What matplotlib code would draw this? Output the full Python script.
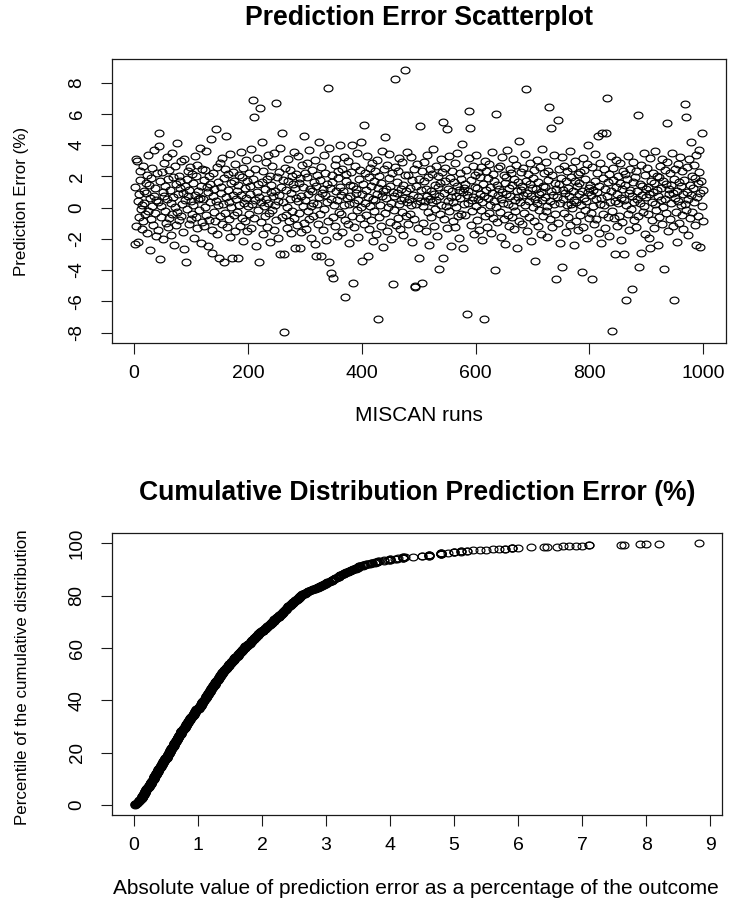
import numpy as np
import matplotlib
matplotlib.use("Agg")
import matplotlib.pyplot as plt
from matplotlib.markers import MarkerStyle
from matplotlib.path import Path

plt.rcParams['font.family'] = ['Liberation Sans', 'DejaVu Sans']

# Prediction error (%) of each MISCAN run, in run order (runs 1..1000)
errors = [
    -2.35, 1.32, 3.12, -1.21, 2.95, 0.42, -2.18, 0.85, -0.63, 1.74, 2.31, -0.12, -1.37, 0.18, 2.64, -0.88, 1.05, 0.27, -0.41, 1.58,
    0.93, -1.62, 2.07, 3.38, -0.25, 1.46, -2.71, 0.61, 1.89, -0.74, 0.08, 2.52, -1.09, 0.77, 3.71, -0.36, 1.23, -1.84, 0.49, 2.18,
    0.34, -1.45, 3.96, 4.8, -3.3, 1.67, 0.12, -0.58, 2.26, 1.02, -2.04, 0.71, 2.83, -0.19, 1.38, -0.97, 3.24, 0.56, -1.26, 1.81,
    -0.67, 2.41, 1.15, -1.78, 0.29, 3.52, -0.44, 1.93, 0.66, -2.37, 2.69, 0.03, -1.12, 1.48, 4.12, -0.31, 0.88, 2.05, -0.82, 1.27,
    1.71, -0.53, 2.97, 0.21, -1.57, 0.94, 3.08, -2.62, 1.36, 0.47, -3.5, 1.84, -0.09, 2.34, 0.75, -1.03, 1.12, 2.58, -0.71, 0.39,
    2.12, -0.38, 1.56, 0.14, -1.94, 3.29, 0.82, -0.61, 1.99, 2.73, -1.31, 0.52, 1.08, -0.16, 3.81, 0.63, -2.26, 1.41, 2.46, -0.93,
    0.58, 1.77, -1.18, 2.39, 0.06, 3.63, -0.49, 1.29, -2.43, 0.97, 2.01, -0.77, 1.52, 0.33, 4.36, -1.41, -2.9, 0.74, 2.21, -0.27,
    1.19, -0.86, 5.0, 0.44, 2.62, -1.66, 0.17, 1.63, -3.2, 2.87, -0.56, 0.91, 1.34, -1.07, 3.15, 0.26, -3.5, 1.88, -0.34, 2.49,
    0.69, 4.6, -1.24, 1.11, 2.15, -0.72, 0.37, 3.44, -1.88, 1.59, 0.04, -3.2, 2.29, 0.83, -0.46, 1.72, 2.78, -1.49, 0.54, 1.06,
    -0.29, -3.2, 1.46, 2.08, 0.19, -1.16, 3.57, 0.78, -0.64, 1.93, 2.56, -2.11, 0.31, 1.24, -0.83, 3.02, 0.62, 1.69, -1.52, 0.11,
    2.24, -0.42, 1.37, 0.86, 3.76, -1.33, 0.22, 6.9, 1.81, 5.8, -0.69, 2.44, 0.48, -2.48, 1.02, 3.19, -0.14, 1.53, -3.5, 0.67,
    6.4, -0.91, 0.38, 4.2, 1.61, -1.71, 2.33, 0.09, 1.17, -0.51, 2.91, 0.57, -1.23, 1.84, 0.28, 3.35, -0.37, 2.02, -2.19, 0.99,
    1.42, -0.18, 2.67, 0.73, -1.46, 3.47, 0.15, 1.08, 6.7, -0.78, 1.96, 0.44, -1.92, 2.27, 0.81, 3.83, -3.0, 1.29, -0.59, 4.8,
    0.36, 1.74, -3.0, -7.99, 2.52, -0.47, 1.14, 0.02, -1.29, 3.11, 1.67, -0.85, 0.53, 2.38, -1.61, 0.92, 2.05, -0.24, 1.48, 3.58,
    -0.66, -2.6, 1.26, 0.64, 2.16, -1.13, 3.27, 0.41, 1.55, -0.32, -2.6, 1.89, 0.76, -1.58, 2.74, 0.13, 1.33, 4.6, -0.96, 2.19,
    0.51, -1.39, 1.98, 2.86, -0.21, 0.89, 3.66, -0.74, 1.21, 0.07, -1.97, 2.43, 1.05, -0.53, 0.32, 1.62, 3.04, -2.34, -3.1, 1.37,
    2.11, 0.26, -1.05, 4.2, 0.68, 1.79, -0.43, -3.1, 2.57, 0.95, -1.44, 1.18, 3.39, -0.11, 0.79, 2.22, -2.07, 1.51, 0.35, 7.66,
    -0.88, 3.8, -3.5, 1.27, 0.54, -4.2, 2.09, 1.63, -0.62, -4.5, 0.19, 2.71, -1.21, 1.04, 3.13, 0.46, -1.83, 1.91, 2.36, -0.27,
    1.32, 4.0, -0.39, 0.83, 2.49, -1.54, 1.07, 0.16, 3.23, -0.79, -5.7, 1.71, 2.14, 0.59, -1.08, 2.96, 0.24, -2.28, 1.45, 0.71,
    2.27, -0.55, 4.0, -4.8, 1.38, 0.31, -1.27, 2.63, 0.92, 1.16, -0.13, 3.49, 0.47, -1.91, 1.83, 2.41, -0.68, 0.05, 4.2, -3.4,
    0.84, 1.53, 5.3, -1.02, 0.27, 2.18, -0.45, 1.12, 3.31, -3.1, 0.66, 1.94, -1.35, 2.55, 0.12, -0.81, 1.41, 2.83, -2.16, 0.58,
    1.73, -0.22, 2.31, 0.49, -1.67, 3.07, 0.87, -7.1, 1.26, -0.59, 2.04, 0.18, 1.57, -1.19, 3.61, 0.73, -2.53, 1.09, 2.46, 4.5,
    -0.35, 1.16, 0.61, 2.72, -1.48, 0.03, 1.87, 3.42, -0.93, 1.35, 0.29, -2.02, 2.23, -4.9, 1.01, 0.77, -0.17, 8.2, 2.59, -1.11,
    0.93, 1.66, -0.64, 2.37, 0.21, 3.18, -1.38, 1.22, 0.48, -0.26, 2.89, 1.44, -1.76, 0.62, 8.83, 2.11, -0.51, 1.03, 3.53, 0.36,
    -1.06, 2.06, 0.57, 1.28, -0.41, 3.26, 0.14, -2.22, 1.76, 0.82, 2.47, -0.73, -5.1, -5.0, 1.39, 0.25, 2.79, -1.28, 0.67, 1.85,
    -3.2, 0.44, 5.2, 1.13, -4.8, 2.32, 0.08, -0.97, 1.68, 2.93, 0.39, -1.52, 1.21, 0.71, 3.36, -0.31, 1.97, -2.39, 0.55, 2.48,
    1.06, -0.62, 2.17, 0.33, 3.72, -1.16, 0.89, 1.47, -0.08, 2.64, 0.51, -1.81, 1.32, 2.01, -3.9, 0.76, 1.58, -0.44, 3.09, 0.19,
    2.26, 5.5, -3.2, 0.94, -0.71, 1.73, 2.54, 0.13, 5.0, -1.33, 1.19, 0.42, 3.28, -0.19, 1.91, -2.47, 0.68, 2.36, 1.04, -0.86,
    0.35, 1.62, -1.24, 2.85, 0.72, 0.01, 1.39, 3.47, -0.57, 1.14, -1.96, 2.19, 0.59, 1.81, -0.38, 4.07, 0.97, -2.61, 1.26, 0.23,
    1.52, -0.46, 2.42, 0.81, -6.8, 1.07, 0.28, 3.14, 6.2, 5.1, -1.09, 1.78, 0.46, -0.24, 2.67, 0.66, -1.72, 1.31, 2.08, 0.11,
    3.34, -0.79, 1.24, 0.53, 2.29, -1.41, 0.87, 1.96, -0.15, 2.58, 0.38, -2.09, 1.49, -7.1, 0.74, 3.01, -0.53, 1.11, 2.34, -1.22,
    0.62, 1.87, -0.33, 2.76, 0.17, 1.34, -1.64, 3.57, 0.91, -0.67, 2.13, 0.45, 1.69, -4.0, 0.06, 6.0, 1.42, -0.92, 2.51, 0.79,
    1.16, -0.28, 2.63, 0.54, -1.85, 3.21, 1.01, 0.32, -0.74, 2.07, 1.57, -2.33, 0.86, 1.93, 3.68, -0.49, 0.24, 1.28, -1.17, 2.44,
    0.71, 2.19, -0.58, 1.46, 0.09, 3.12, -1.34, 1.83, 0.51, -0.21, 2.71, 1.05, -2.56, 0.67, 1.61, 4.24, -0.86, 0.35, 2.28, 1.12,
    -1.03, 1.37, 0.83, 2.52, -0.37, 0.18, 3.44, 1.71, 7.6, -1.49, 0.96, 2.16, 0.41, -0.63, 1.53, 2.88, -2.14, 0.72, 1.25, 0.04,
    1.89, -0.83, 2.39, 0.57, -3.4, 1.18, 0.29, 3.05, -1.21, 1.64, 0.84, -0.14, 2.61, 1.02, -1.69, 3.76, 0.47, 1.41, -0.51, 2.23,
    0.66, 1.33, -0.25, 2.94, 0.12, -1.87, 1.78, 2.32, 6.45, 0.39, -0.72, 1.09, 5.1, 2.06, -1.26, 0.81, 3.37, 0.23, 1.55, -0.43,
    -4.6, 1.22, 0.69, 5.6, -0.96, 2.45, 1.49, 0.31, -2.29, 1.87, 3.22, -3.8, 0.58, 1.14, -0.34, 2.67, 0.93, -1.56, 1.73, 0.15,
    2.37, -0.61, 1.28, 0.74, 3.59, -1.13, 0.26, 1.94, -0.05, 2.53, 1.07, -2.41, 0.49, 1.67, 2.98, -0.89, 0.36, 1.35, -1.44, 2.12,
    0.88, 1.58, -0.47, 2.27, 0.14, -4.1, 1.03, 3.16, -1.23, 0.62, 2.41, -0.17, 1.81, 0.44, -1.94, 2.79, 0.97, 4.0, -0.64, 1.26,
    1.47, -0.32, 0.79, 2.58, -4.6, 1.15, 0.08, -1.07, 3.41, 1.69, 0.53, -0.76, 2.22, 0.97, 4.6, -1.62, 1.36, 2.84, 0.21, -2.27,
    0.61, 4.8, -0.41, 1.92, 2.49, 0.16, -1.31, 1.21, 4.8, 0.73, 7.0, -0.58, 1.64, 2.16, -1.83, 0.37, 3.28, 1.04, -0.22, -7.9,
    1.74, 2.54, -0.69, 0.42, -3.0, 1.33, 3.03, 0.86, -1.18, 2.04, 0.27, -0.54, 1.58, 2.87, -2.06, 0.64, 1.17, -0.93, 2.36, -3.0,
    0.51, 1.44, 2.14, -5.9, 0.19, 1.86, -0.38, 3.32, 0.92, -1.41, 1.13, 2.47, -0.11, 0.76, -5.2, 1.64, 2.93, -0.79, 0.33, 1.98,
    -1.25, 2.31, 0.57, 1.09, -0.52, 5.9, -3.8, 1.51, 0.29, 2.73, -2.9, 0.83, 1.38, -0.27, 3.46, 0.12, -1.66, 2.09, 1.21, 0.68,
    2.56, -0.44, 1.31, 0.87, -1.97, -2.6, 3.19, 1.73, 0.37, -0.82, 2.24, 0.98, 1.56, -1.33, 3.64, 0.25, -0.15, 2.01, 1.12, -2.38,
    0.73, 1.93, -0.61, 2.68, 0.46, 1.27, -1.08, 3.08, 0.02, 1.71, -3.9, 2.39, 0.58, -0.35, 1.49, 2.92, 5.4, -1.51, 0.84, 1.16,
    2.18, -0.74, 1.43, 0.31, 3.51, -1.19, 0.96, 1.84, -5.9, 0.62, 2.46, -0.28, 1.07, -2.18, 2.77, 0.43, 1.62, -0.96, 3.26, 0.17,
    1.36, -0.49, 2.33, 0.89, -1.36, 1.78, 0.24, 6.6, 5.8, -0.13, 2.58, 1.01, -1.76, 0.54, 3.13, 1.47, -0.66, 4.2, 0.79, 2.02,
    -0.31, 1.24, 2.71, 0.36, -1.14, 1.91, 3.36, -2.4, 0.67, 1.55, -0.57, 2.29, 3.7, -2.5, 0.95, 1.69, 0.08, 4.8, -0.89, 1.12,
]

run_ticks = [0, 200, 400, 600, 800, 1000]
error_ticks = [-8, -6, -4, -2, 0, 2, 4, 6, 8]
abs_ticks = [0, 1, 2, 3, 4, 5, 6, 7, 8, 9]
pct_ticks = [0, 20, 40, 60, 80, 100]

title_top = "Prediction Error Scatterplot"
xlabel_top = "MISCAN runs"
ylabel_top = "Prediction Error (%)"
title_bottom = "Cumulative Distribution Prediction Error (%)"
xlabel_bottom = "Absolute value of prediction error as a percentage of the outcome"
ylabel_bottom = "Percentile of the cumulative distribution"

# Derived series: run index, and the empirical CDF of the absolute errors
errors = np.asarray(errors, dtype=float)
runs = np.arange(1, len(errors) + 1)
abs_sorted = np.sort(np.abs(errors))
percentiles = np.arange(1, len(abs_sorted) + 1) / len(abs_sorted) * 100

fig = plt.figure(figsize=(7.33, 9.01), dpi=100)
ax1 = fig.add_axes([0.1528, 0.6193, 0.8377, 0.3152])
ax2 = fig.add_axes([0.1528, 0.0954, 0.8322, 0.3130])

# open ring marker, a little wider than tall
theta = np.linspace(0, 2 * np.pi, 49)
ring_path = Path(np.column_stack([np.cos(theta), 0.76 * np.sin(theta)]), closed=True)
ring = MarkerStyle(ring_path, fillstyle='none')
mkw = dict(linestyle='none', marker=ring, markersize=6.4, markeredgewidth=0.85,
           markeredgecolor='black', markerfacecolor='none')

ax1.plot(runs, errors, **mkw)
ax2.plot(abs_sorted, percentiles, **mkw)

edge = '#1a1a1a'
for ax in (ax1, ax2):
    ax.margins(x=0.04, y=0.04)
    for sp in ax.spines.values():
        sp.set_linewidth(0.9)
        sp.set_color(edge)
    ax.tick_params(axis='both', direction='out', length=8, width=0.8, color=edge,
                   labelcolor='black')
    ax.tick_params(axis='x', labelsize=14, pad=7.5)
    ax.tick_params(axis='y', labelsize=13.5, pad=11, labelrotation=90)

ax1.set_xticks(run_ticks)
ax1.set_xticklabels([str(t) for t in run_ticks])
ax1.set_yticks(error_ticks)
ax1.set_yticklabels([str(t) for t in error_ticks], va='center')
ax2.set_xticks(abs_ticks)
ax2.set_xticklabels([str(t) for t in abs_ticks])
ax2.set_yticks(pct_ticks)
ax2.set_yticklabels([str(t) for t in pct_ticks], va='center')

ax1.set_title(title_top, fontsize=19.2, fontweight='bold', y=1.144, pad=0, va='center')
ax2.set_title(title_bottom, fontsize=19.1, fontweight='bold', y=1.142, pad=0, va='center')

ax1.set_xlabel(xlabel_top, fontsize=15, va='center')
ax1.xaxis.set_label_coords(0.5, -0.257)
ax1.set_ylabel(ylabel_top, fontsize=12.2, va='center')
ax1.yaxis.set_label_coords(-0.1466, 0.5)

ax2.set_xlabel(xlabel_bottom, fontsize=15, va='center')
ax2.xaxis.set_label_coords(0.4975, -0.259)
ax2.set_ylabel(ylabel_bottom, fontsize=12.2, va='center')
ax2.yaxis.set_label_coords(-0.1475, 0.49)

fig.savefig("out.png", dpi=100)
